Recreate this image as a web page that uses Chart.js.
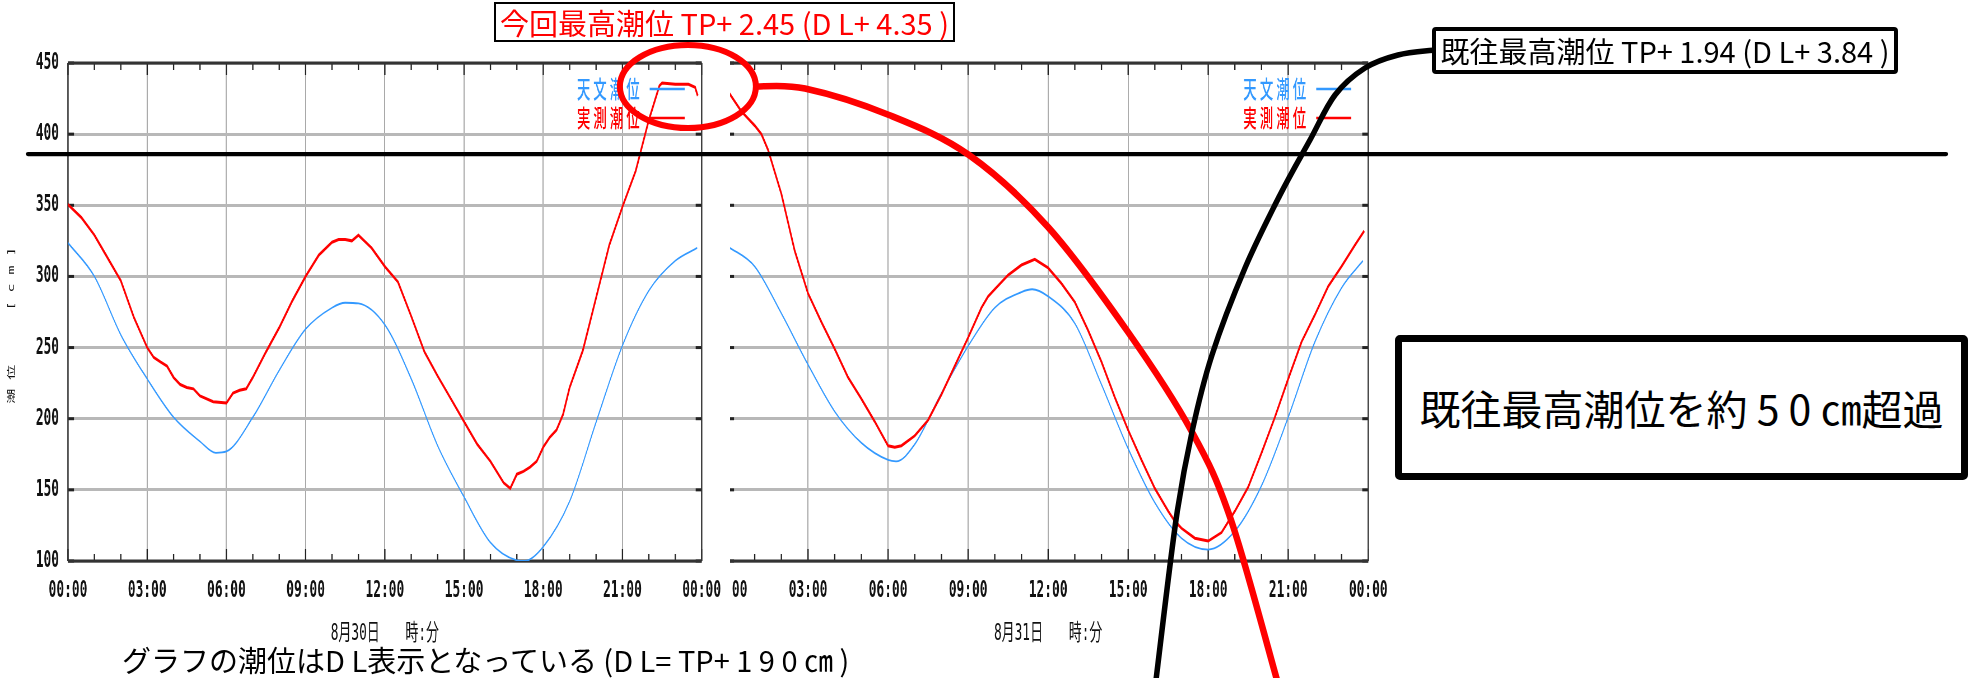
<!DOCTYPE html>
<html>
<head>
<meta charset="utf-8">
<script src="https://cdn.jsdelivr.net/npm/chart.js@4.4.0/dist/chart.umd.min.js"></script>
<style>
html,body{margin:0;padding:0;background:#fff;}
body{width:1970px;height:678px;overflow:hidden;position:relative;}
canvas{position:absolute;top:0;}
#cR{z-index:1;}
#cL{z-index:2;}
#ov{position:absolute;left:0;top:0;z-index:3;pointer-events:none;}
.box{position:absolute;z-index:4;background:#fff;box-sizing:border-box;display:flex;align-items:center;justify-content:center;white-space:nowrap;font-family:'Liberation Sans Narrow','Noto Sans CJK JP',sans-serif;line-height:1;}
.note{position:absolute;z-index:4;white-space:nowrap;font-family:'Liberation Sans Narrow','Noto Sans CJK JP',sans-serif;line-height:1;color:#000;}
</style>
</head>
<body>
<canvas id="cR"></canvas>
<canvas id="cL"></canvas>
<svg id="ov" width="1970" height="678" xmlns="http://www.w3.org/2000/svg"></svg>
<div class="box" style="left:494px;top:2px;width:461px;height:40px;border:2px solid #000;color:#f00;font-size:29px;">今回最高潮位 TP+ 2.45 (D L+ 4.35 )</div>
<div class="box" style="left:1432px;top:27px;width:466px;height:47px;border:4px solid #000;border-radius:4px;color:#000;font-size:29px;">既往最高潮位 TP+ 1.94 (D L+ 3.84 )</div>
<div class="box" style="left:1395px;top:335px;width:573px;height:145px;border:7px solid #000;border-radius:5px;color:#000;font-size:41px;">既往最高潮位を約 5 0 ㎝超過</div>
<div class="note" style="left:122px;top:645px;font-size:29px;">グラフの潮位はD L表示となっている (D L= TP+ 1 9 0 ㎝ )</div>
<script>
// ---------- data ----------
const timeLabels = ['00:00','03:00','06:00','09:00','12:00','15:00','18:00','21:00','00:00'];
const levelTicks = [100,150,200,250,300,350,400,450];
const seriesNames = ['天文潮位','実測潮位'];
const dayTitles = ['8月30日　　時:分','8月31日　　時:分'];
const levelTitle = '潮 位      [ c m ]   ';

// 8/30 astronomical tide
const hoursAstro30 = [0,1,2,3,4,5,5.6,6,7,8,9,10,10.5,11,12,13,14,15,16,17,17.3,18,19,20,21,22,23,23.83];
const astro30 = [323.6,300,259,228,201,184,176,177,201,234,263,278,281.5,281,266,228,181,145,113,100.5,100,110,142,197.5,251.5,290,311,320];
// 8/30 observed tide
const hoursObs30 = [0,0.5,1,1.5,2,2.5,3,3.25,3.5,3.75,4,4.25,4.5,4.75,5,5.5,6,6.25,6.5,6.75,7,7.5,8,8.5,9,9.5,10,10.25,10.5,10.75,11,11.5,12,12.5,13,13.5,14,14.5,15,15.5,16,16.5,16.75,17,17.25,17.5,17.75,18,18.25,18.5,18.75,19,19.5,20,20.5,21,21.5,22,22.4,22.5,23,23.5,23.75,23.85];
const obs30 = [350.5,341.5,329,313,297,271,250,243,240,237,229,224,222,221,216,212,211,218,220,221,229,247,264,283,300,315,324,326,326,325,329,320,307,296,272,247,230,214,198,182,170,155,151,161,163,166,170,180,187,192,203,222,248,285,322,349,374,410,434,436,435,435,433,427];
// 8/31 astronomical tide
const hoursAstro31 = [0,1,2,3,4,5,6,6.3,7,8,9,10,11,11.4,12,13,14,15,16,17,18,19,20,21,22,23,23.8];
const astro31 = [321,307,274,238,205,183,171,170,182,218,251,278,289,291,286,267,224,179,141,116,108,121,153,201,254,292,311];
// 8/31 observed tide
const hoursObs31 = [0,0.5,0.75,1,1.25,1.5,2,2.5,3,3.5,4,4.5,5,5.5,6,6.25,6.5,7,7.5,8,8.5,9,9.5,9.75,10,10.5,11,11.5,12,12.5,13,13.5,14,14.5,15,15.5,16,16.5,16.75,17,17.5,18,18.5,19,19.5,20,20.5,21,21.5,22,22.5,23,23.5,23.85];
const obs31 = [430,416,411,406,400,389,358,318,288,268,249,229,214,198,181,180,181,188,199,217,237,257,278,286,291,301,308,312,306,295,282,262,240,215,192,171,151,135,128,123,116,114,120,135,152,176,201,228,254,273,293,307,322,332];

// annotation anchors
const pastMaxLevel = 386;      // thick black line
const peakHour = 23.47, peakLevel = 433.5; // red ellipse centre

// ---------- layout ----------
const K = 0.56;            // horizontal squeeze of the chart images
const H = 678;
const L = {pageLeft:0,   pageW:730, plotL:68,  plotR:707};
const R = {pageLeft:688, pageW:712, plotL:728, plotR:1368};
const plotTop = 63, plotBottom = 561;

const tickFont = {family:"'DejaVu Sans Mono','Noto Sans CJK JP'", size:23, weight:'bold'};
const titleFont = {family:"'DejaVu Sans Mono','Noto Sans CJK JP'", size:23};
const BLUE = '#3399ff', RED = '#ff0000';

function pts(xs, ys){ return xs.map((x,i)=>({x:x, y:ys[i]})); }

const whiteBg = {
  id:'whiteBg',
  beforeDraw(chart){
    const c = chart.ctx; c.save(); c.fillStyle='#fff'; c.fillRect(0,0,chart.width,chart.height); c.restore();
  }
};

const frame = {
  id:'frame',
  beforeDatasetsDraw(chart){
    const {ctx, chartArea:a, scales:{x, y}} = chart;
    const ln = (x1,y1,x2,y2)=>{ctx.beginPath();ctx.moveTo(x1,y1);ctx.lineTo(x2,y2);ctx.stroke();};
    ctx.save();
    ctx.strokeStyle = '#222';
    ctx.lineWidth = 1.3/K;
    for (let h = x.min; h <= x.max; h++){
      const px = x.getPixelForValue(h);
      const len = (h % 3 === 0) ? 12 : 7;
      ln(px, a.top, px, a.top+len);
      ln(px, a.bottom, px, a.bottom-len);
    }
    ctx.lineWidth = 3;
    for (const v of levelTicks){
      const py = y.getPixelForValue(v);
      ln(a.left, py, a.left+6/K, py);
      ln(a.right-6/K, py, a.right, py);
    }
    ctx.strokeStyle = '#333';
    ctx.lineWidth = 3;
    ln(a.left, a.top, a.right, a.top);
    ln(a.left, a.bottom, a.right, a.bottom);
    ctx.lineWidth = 1.4/K;
    ln(a.left, a.top, a.left, a.bottom);
    ln(a.right, a.top, a.right, a.bottom);
    ctx.restore();
  }
};

const innerLegend = {
  id:'innerLegend',
  afterDatasetsDraw(chart){
    const {ctx, chartArea:a} = chart;
    ctx.save();
    ctx.font = "500 24px 'Noto Sans CJK JP'";
    ctx.textBaseline = 'middle';
    ctx.textAlign = 'right';
    chart.data.datasets.forEach((ds,i)=>{
      const yy = a.top + 26 + i*29;
      const x2 = a.right - 17/K, x1 = x2 - 35/K;
      ctx.strokeStyle = ds.borderColor; ctx.lineWidth = 2.5;
      ctx.beginPath(); ctx.moveTo(x1,yy); ctx.lineTo(x2,yy); ctx.stroke();
      ctx.fillStyle = ds.borderColor;
      ctx.fillText(ds.label.split('').join(' '), x1 - 10/K, yy);
    });
    ctx.restore();
  }
};

function build(id, P, astroX, astroY, obsX, obsY, title, showY){
  const cv = document.getElementById(id);
  const iw = Math.round(P.pageW / K);
  cv.width = iw; cv.height = H;
  cv.style.left = P.pageLeft + 'px';
  cv.style.width = (iw*K) + 'px';
  cv.style.height = H + 'px';
  const yWidth = (P.plotL - P.pageLeft)/K;
  const padRight = iw - (P.plotR - P.pageLeft)/K;
  return new Chart(cv, {
    type:'line',
    data:{datasets:[
      {label:seriesNames[0], data:pts(astroX, astroY), borderColor:BLUE, backgroundColor:BLUE, borderWidth:1.8, pointRadius:0, cubicInterpolationMode:'monotone', order:1},
      {label:seriesNames[1], data:pts(obsX, obsY), borderColor:RED, backgroundColor:RED, borderWidth:3, pointRadius:0, tension:0, order:0}
    ]},
    options:{
      responsive:false, animation:false, devicePixelRatio:1,
      layout:{padding:{left:0, top:plotTop, right:padRight, bottom:0}},
      plugins:{legend:{display:false}, tooltip:{enabled:false}},
      scales:{
        x:{
          type:'linear', min:0, max:24,
          afterFit(s){ s.height = H - plotBottom; },
          ticks:{stepSize:3, autoSkip:false, maxRotation:0, padding:16, font:tickFont, color:'#111',
                 callback:(v,i)=>timeLabels[i]},
          grid:{drawTicks:false, lineWidth:1.1/K,
                color:(c)=> (c.tick && (c.tick.value===0 || c.tick.value===24)) ? 'rgba(0,0,0,0)' : '#a9a9a9'},
          border:{display:false},
          title:{display:true, text:title, color:'#111', font:titleFont, padding:{top:0, bottom:30}}
        },
        y:{
          min:levelTicks[0], max:levelTicks[levelTicks.length-1],
          afterFit(s){ s.width = yWidth; },
          ticks:{display:showY, stepSize:levelTicks[1]-levelTicks[0], padding:16, font:tickFont, color:'#111'},
          grid:{drawTicks:false, lineWidth:3, color:'#b8b8b8'},
          border:{display:false},
          title:{display:showY, text:levelTitle, color:'#111', font:{family:"'DejaVu Sans Mono','Noto Sans CJK JP'", size:15}, padding:{top:12, bottom:0}}
        }
      }
    },
    plugins: id==='cL' ? [whiteBg, frame, innerLegend] : [frame, innerLegend]
  });
}

const rightChart = build('cR', R, hoursAstro31, astro31, hoursObs31, obs31, dayTitles[1], false);
const leftChart  = build('cL', L, hoursAstro30, astro30, hoursObs30, obs30, dayTitles[0], true);

// ---------- annotation overlay ----------
function smoothPath(p){
  let d = `M${p[0][0]},${p[0][1]}`;
  for (let i=0;i<p.length-1;i++){
    const p0 = p[i-1]||p[i], p1=p[i], p2=p[i+1], p3=p[i+2]||p[i+1];
    const c1 = [p1[0]+(p2[0]-p0[0])/6, p1[1]+(p2[1]-p0[1])/6];
    const c2 = [p2[0]-(p3[0]-p1[0])/6, p2[1]-(p3[1]-p1[1])/6];
    d += ` C${c1[0]},${c1[1]} ${c2[0]},${c2[1]} ${p2[0]},${p2[1]}`;
  }
  return d;
}
const svg = document.getElementById('ov');
const NS = 'http://www.w3.org/2000/svg';
function add(tag, attrs){ const e=document.createElementNS(NS,tag); for (const k in attrs) e.setAttribute(k, attrs[k]); svg.appendChild(e); return e; }

const yLine = leftChart.scales.y.getPixelForValue(pastMaxLevel);
add('line',{x1:28,y1:yLine,x2:1946,y2:yLine,stroke:'#000','stroke-width':4.3,'stroke-linecap':'round'});

const ex = L.pageLeft + leftChart.scales.x.getPixelForValue(peakHour)*K;
const ey = leftChart.scales.y.getPixelForValue(peakLevel);
const rx = 68, ry = 41.5;
add('ellipse',{cx:ex,cy:ey,rx:rx,ry:ry,fill:'none',stroke:'#ff0000','stroke-width':6});

const redArc = [[ex+rx,ey],[805,88.5],[889,115],[969,155],[1048,227],[1128,332],[1192,432],[1231,520],[1277,680]];
add('path',{d:smoothPath(redArc),fill:'none',stroke:'#ff0000','stroke-width':6.5});

const blackArc = [[1434,50],[1398,55],[1365,68],[1335,95],[1310,140],[1280,195],[1245,268],[1212,355],[1192,432],[1176,520],[1156,680]];
add('path',{d:smoothPath(blackArc),fill:'none',stroke:'#000','stroke-width':5.5});
</script>
</body>
</html>
